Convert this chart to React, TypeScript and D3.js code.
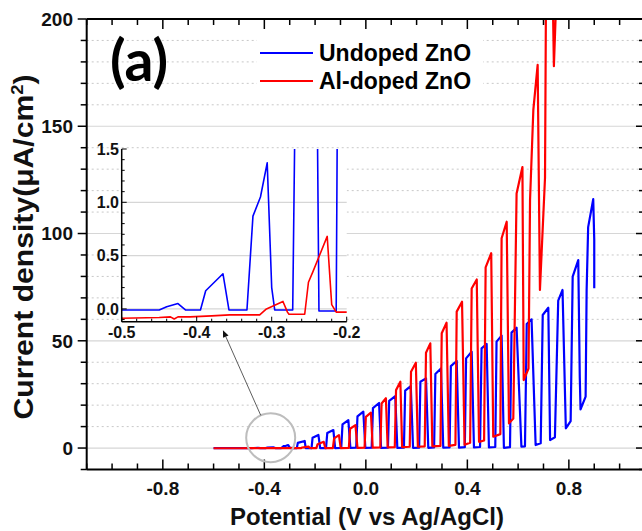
import React from 'react';
import * as d3 from 'd3';

// ---------- data ----------
// Undoped ZnO: potential (V vs Ag/AgCl) and current density (µA/cm²)
const undopedPotential = [
  -0.6, -0.45, -0.44, -0.425, -0.415, -0.395, -0.388, -0.365, -0.357, -0.333,
  -0.325, -0.315, -0.306, -0.3, -0.296, -0.272,
  -0.268, -0.241, -0.237, -0.214,
  -0.21, -0.187, -0.18, -0.157,
  -0.152, -0.128, -0.121, -0.097,
  -0.092, -0.069, -0.061, -0.038,
  -0.033, -0.01, -0.002, 0.023,
  0.028, 0.052, 0.06, 0.087,
  0.092, 0.116, 0.124, 0.15,
  0.155, 0.177, 0.186, 0.21,
  0.215, 0.237, 0.246, 0.269,
  0.274, 0.296, 0.305, 0.33,
  0.335, 0.358, 0.367, 0.39,
  0.395, 0.417, 0.426, 0.45,
  0.456, 0.476, 0.485, 0.51,
  0.515, 0.535, 0.544, 0.568,
  0.574, 0.594, 0.613, 0.627,
  0.634, 0.653, 0.669, 0.689,
  0.697, 0.719, 0.726, 0.745,
  0.758, 0.775, 0.788, 0.807,
  0.815, 0.837, 0.843, 0.846, 0.866,
  0.87, 0.876, 0.896, 0.9, 0.9,
];
const undopedCurrent = [
  -0.01, -0.01, 0.02, 0.05, -0.01, -0.01, 0.17, 0.33, -0.01, -0.01,
  0.87, 1.05, 1.37, 0.2, -0.01, -0.01,
  2.4, 3.3, -0.02, -0.02,
  4.8, 6.1, 0.0, 0.0,
  7.0, 8.4, 0.0, 0.1,
  11.0, 13.0, 0.1, 0.2,
  14.8, 17.0, 0.1, 0.2,
  18.6, 21.0, 0.1, 0.2,
  22.0, 24.2, 0.1, 0.2,
  26.8, 28.9, 0.1, 0.2,
  30.9, 32.5, 0.1, 0.3,
  34.5, 37.1, 0.2, 0.3,
  38.2, 40.6, 0.2, 0.4,
  41.8, 44.9, 0.3, 0.5,
  46.5, 48.5, 0.3, 0.5,
  49.6, 52.4, 0.1, 0.4,
  53.8, 56.1, 0.6, 0.8,
  57.8, 60.0, 1.4, 2.2,
  62.0, 65.4, 3.7, 5.0,
  68.7, 73.7, 9.2, 12.5,
  79.9, 87.6, 33.0, 18.0, 24.0,
  73.7, 103.0, 116.0, 97.0, 74.5,
];

// Al-doped ZnO
const alDopedPotential = [
  -0.6, -0.5, -0.45, -0.435, -0.43, -0.425, -0.409, -0.38, -0.356, -0.316,
  -0.307, -0.285, -0.279, -0.277, -0.256, -0.251, -0.245, -0.226, -0.22, -0.214,
  -0.195, -0.19, -0.166, -0.16, -0.13,
  -0.125, -0.106, -0.099, -0.067,
  -0.062, -0.041, -0.033, -0.005,
  0.0, 0.02, 0.027, 0.057,
  0.062, 0.079, 0.086, 0.114,
  0.119, 0.136, 0.143, 0.173,
  0.178, 0.197, 0.205, 0.232,
  0.237, 0.254, 0.262, 0.294,
  0.299, 0.318, 0.327, 0.353,
  0.358, 0.379, 0.389, 0.411,
  0.417, 0.437, 0.446, 0.466,
  0.472, 0.494, 0.502, 0.53,
  0.535, 0.555, 0.564, 0.581,
  0.594, 0.617, 0.622, 0.641,
  0.647, 0.66, 0.677, 0.686,
  0.706, 0.71, 0.736, 0.741, 0.752,
];
const alDopedCurrent = [
  -0.09, -0.087, -0.08, -0.075, -0.095, -0.075, -0.075, -0.065, -0.056, -0.056,
  0.0, 0.07, -0.03, -0.05, -0.05, 0.25, 0.35, 0.68, 0.04, -0.03,
  -0.03, 1.8, 2.9, -0.02, 0.0,
  4.5, 6.0, 0.0, 0.1,
  9.0, 10.7, 0.1, 0.2,
  14.5, 16.5, 0.2, 0.3,
  20.8, 23.2, 0.3, 0.4,
  27.0, 30.9, 0.4, 0.6,
  35.6, 39.8, 0.6, 0.8,
  44.4, 48.8, 0.8, 1.0,
  53.5, 58.4, 1.0, 1.5,
  63.6, 68.2, 1.5, 2.5,
  74.4, 78.6, 2.9, 3.5,
  84.2, 90.8, 5.3, 6.5,
  97.8, 105.5, 11.5, 13.8,
  118.7, 131.0, 31.7, 37.1,
  115.6, 157.6, 178.6, 73.7,
  126.0, 215.0, 215.0, 178.0, 215.0,
];

const seriesNames = ['Undoped ZnO', 'Al-doped ZnO'];
const seriesColors = ['#0000ff', '#ff0000'];

const xMajorTicks = [-0.8, -0.4, 0.0, 0.4, 0.8];
const xTickLabels = ['-0.8', '-0.4', '0.0', '0.4', '0.8'];
const yMajorTicks = [0, 50, 100, 150, 200];
const yTickLabels = ['0', '50', '100', '150', '200'];
const insetXTicks = [-0.5, -0.4, -0.3, -0.2];
const insetXLabels = ['-0.5', '-0.4', '-0.3', '-0.2'];
const insetYTicks = [0.0, 0.5, 1.0, 1.5];
const insetYLabels = ['0.0', '0.5', '1.0', '1.5'];

// annotation: circled region in main chart (V, µA/cm²) and arrow target in inset coords
const circleCenter = [-0.375, 4.8];
const arrowTarget = [-0.365, -0.2];

const FONT = "'Liberation Sans', Arial, Helvetica, sans-serif";

export default function App() {
  const W = 642, H = 531;
  const x = d3.scaleLinear().domain([-1.1, 1.1]).range([86.7, 645]);
  const y = d3.scaleLinear().domain([-10, 200]).range([469.5, 19]);
  const xi = d3.scaleLinear().domain([-0.5, -0.2]).range([121.7, 346.7]);
  const yi = d3.scaleLinear().domain([-0.12, 1.5]).range([321.7, 149]);

  const toPts = (xs: number[], ys: number[]) => xs.map((v, i) => [v, ys[i]] as [number, number]);
  const series = [toPts(undopedPotential, undopedCurrent), toPts(alDopedPotential, alDopedCurrent)];

  const mainLine = d3.line<[number, number]>().x(d => x(d[0])).y(d => y(d[1]));
  const insetLine = d3.line<[number, number]>().x(d => xi(d[0])).y(d => yi(d[1]));

  const [x0, x1] = x.range();
  const [y0, y1] = y.range();
  const xMinor = d3.range(-11, 12).map(k => k / 10);
  const yMinor = d3.range(-1, 21).map(k => k * 10);
  const gridMinor = d3.range(1, 20).map(k => k * 10).filter(v => v % 50 !== 0);
  const gridMajor = [0, 50, 100, 150];

  const ixMinor = d3.range(-25, -9).map(k => k / 50);
  const iyMinor = d3.range(-1, 16).map(k => k / 10);

  // annotation geometry
  const cx = x(circleCenter[0]);
  const cy = y(circleCenter[1]);
  const r = 24.5;
  const ax = xi(arrowTarget[0]);
  const ay = yi(arrowTarget[1]);
  const dx = ax - cx, dy = ay - cy;
  const len = Math.hypot(dx, dy);
  const ux = dx / len, uy = dy / len;
  const sx = cx + ux * r, sy = cy + uy * r;
  const headLen = 7, headW = 3;
  const bx = ax - ux * headLen, by = ay - uy * headLen;
  const head = `M${ax},${ay}L${bx - uy * headW},${by + ux * headW}L${bx + uy * headW},${by - ux * headW}Z`;

  return (
    <svg width={W} height={H} style={{ position: 'absolute', left: 0, top: 0, background: '#fff' }}
      fontFamily={FONT}>
      <defs>
        <clipPath id="mainClip">
          <rect x={x0} y={y1} width={x1 - x0} height={y0 - y1} />
        </clipPath>
        <clipPath id="insetClip">
          <rect x={xi(-0.5)} y={yi(1.5)} width={xi(-0.2) - xi(-0.5)} height={yi(-0.12) - yi(1.5)} />
        </clipPath>
      </defs>
      <rect x={0} y={0} width={W} height={H} fill="#fff" />

      {/* main grid */}
      {gridMinor.map(v => (
        <line key={'gm' + v} x1={x0} x2={x1} y1={y(v)} y2={y(v)} stroke="#c8c8c8" strokeWidth={1} strokeDasharray="2,3" />
      ))}
      {gridMajor.map(v => (
        <line key={'gM' + v} x1={x0} x2={x1} y1={y(v)} y2={y(v)} stroke="#d6d6d6" strokeWidth={1.2} />
      ))}

      {/* main data */}
      <g clipPath="url(#mainClip)">
        {series.map((pts, i) => (
          <path key={'s' + i} d={mainLine(pts) || ''} fill="none" stroke={seriesColors[i]} strokeWidth={2.2} strokeLinejoin="round" />
        ))}
      </g>

      {/* main axes */}
      <line x1={x0} x2={x1} y1={y1} y2={y1} stroke="#000" strokeWidth={2} />
      <line x1={x0} x2={x1} y1={y0} y2={y0} stroke="#000" strokeWidth={2} />
      <line x1={x0} x2={x0} y1={y1} y2={y0} stroke="#000" strokeWidth={2} />
      <line x1={x1} x2={x1} y1={y1} y2={y0} stroke="#000" strokeWidth={2} />
      {xMinor.map(v => {
        const major = xMajorTicks.some(m => Math.abs(m - v) < 1e-6);
        const L = major ? 10 : 6;
        return (
          <g key={'xt' + v}>
            <line x1={x(v)} x2={x(v)} y1={y0} y2={y0 - L} stroke="#000" strokeWidth={1.5} />
            <line x1={x(v)} x2={x(v)} y1={y1} y2={y1 + L} stroke="#000" strokeWidth={1.5} />
          </g>
        );
      })}
      {yMinor.map(v => {
        const major = v % 50 === 0;
        const L = major ? 9 : 6;
        return (
          <g key={'yt' + v}>
            <line x1={x0} x2={x0 - L} y1={y(v)} y2={y(v)} stroke="#000" strokeWidth={1.5} />
            <line x1={x1} x2={x1 - L} y1={y(v)} y2={y(v)} stroke="#000" strokeWidth={1.5} />
          </g>
        );
      })}
      {xMajorTicks.map((v, i) => (
        <text key={'xl' + v} x={x(v)} y={495} textAnchor="middle" fontSize={19} fontWeight="bold" fill="#111">{xTickLabels[i]}</text>
      ))}
      {yMajorTicks.map((v, i) => (
        <text key={'yl' + v} x={73} y={y(v)} dy="0.36em" textAnchor="end" fontSize={19} fontWeight="bold" fill="#111">{yTickLabels[i]}</text>
      ))}

      {/* axis titles */}
      <text x={367} y={525} textAnchor="middle" fontSize={24} fontWeight="bold" fill="#111">Potential (V vs Ag/AgCl)</text>
      <text transform="translate(33,247) rotate(-90)" textAnchor="middle" fontSize={28} fontWeight="bold" fill="#111"
        textLength={345} lengthAdjust="spacingAndGlyphs">
        Current density(μA/cm<tspan dy={-10} fontSize={17}>2</tspan><tspan dy={10}>)</tspan>
      </text>

      {/* panel label */}
      <text x={139} y={81} textAnchor="middle" fontSize={57} fontWeight="bold" fontFamily="Lato, 'Open Sans', sans-serif" fill="#000">(a)</text>

      {/* legend */}
      <rect x={257} y={34} width={226} height={66} fill="#fff" />
      {seriesNames.map((name, i) => (
        <g key={'lg' + i}>
          <line x1={260} x2={313} y1={53 + i * 28} y2={53 + i * 28} stroke={seriesColors[i]} strokeWidth={2} />
          <text x={319} y={61 + i * 28} fontSize={23} fontWeight="bold" fill="#000">{name}</text>
        </g>
      ))}

      {/* inset */}
      <rect x={xi(-0.5)} y={yi(1.5)} width={xi(-0.2) - xi(-0.5)} height={yi(-0.12) - yi(1.5)} fill="#fff" />
      {[0, 0.5, 1.0].map(v => (
        <line key={'ig' + v} x1={xi(-0.5)} x2={xi(-0.2)} y1={yi(v)} y2={yi(v)} stroke="#d6d6d6" strokeWidth={1.2} />
      ))}
      <g clipPath="url(#insetClip)">
        {series.map((pts, i) => (
          <path key={'is' + i} d={insetLine(pts) || ''} fill="none" stroke={seriesColors[i]} strokeWidth={1.6} strokeLinejoin="round" />
        ))}
      </g>
      <line x1={xi(-0.5)} x2={xi(-0.2)} y1={yi(-0.12)} y2={yi(-0.12)} stroke="#000" strokeWidth={1.5} />
      <line x1={xi(-0.5)} x2={xi(-0.5)} y1={yi(-0.12)} y2={yi(1.5)} stroke="#000" strokeWidth={1.5} />
      {ixMinor.map(v => {
        const major = insetXTicks.some(m => Math.abs(m - v) < 1e-6);
        return <line key={'ixt' + v} x1={xi(v)} x2={xi(v)} y1={yi(-0.12)} y2={yi(-0.12) - (major ? 5 : 3)} stroke="#000" strokeWidth={1} />;
      })}
      {iyMinor.map(v => {
        const major = insetYTicks.some(m => Math.abs(m - v) < 1e-6);
        return <line key={'iyt' + v} x1={xi(-0.5)} x2={xi(-0.5) + (major ? 5 : 3)} y1={yi(v)} y2={yi(v)} stroke="#000" strokeWidth={1} />;
      })}
      {insetXTicks.map((v, i) => (
        <text key={'ixl' + v} x={xi(v)} y={338} textAnchor="middle" fontSize={16} fontWeight="bold" fill="#111">{insetXLabels[i]}</text>
      ))}
      {insetYTicks.map((v, i) => (
        <text key={'iyl' + v} x={119} y={yi(v)} dy="0.36em" textAnchor="end" fontSize={16} fontWeight="bold" fill="#111">{insetYLabels[i]}</text>
      ))}

      {/* annotation */}
      <circle cx={cx} cy={cy} r={r} fill="none" stroke="#bdbdbd" strokeWidth={2} />
      <line x1={sx} y1={sy} x2={bx} y2={by} stroke="#333" strokeWidth={0.8} />
      <path d={head} fill="#111" />
    </svg>
  );
}
